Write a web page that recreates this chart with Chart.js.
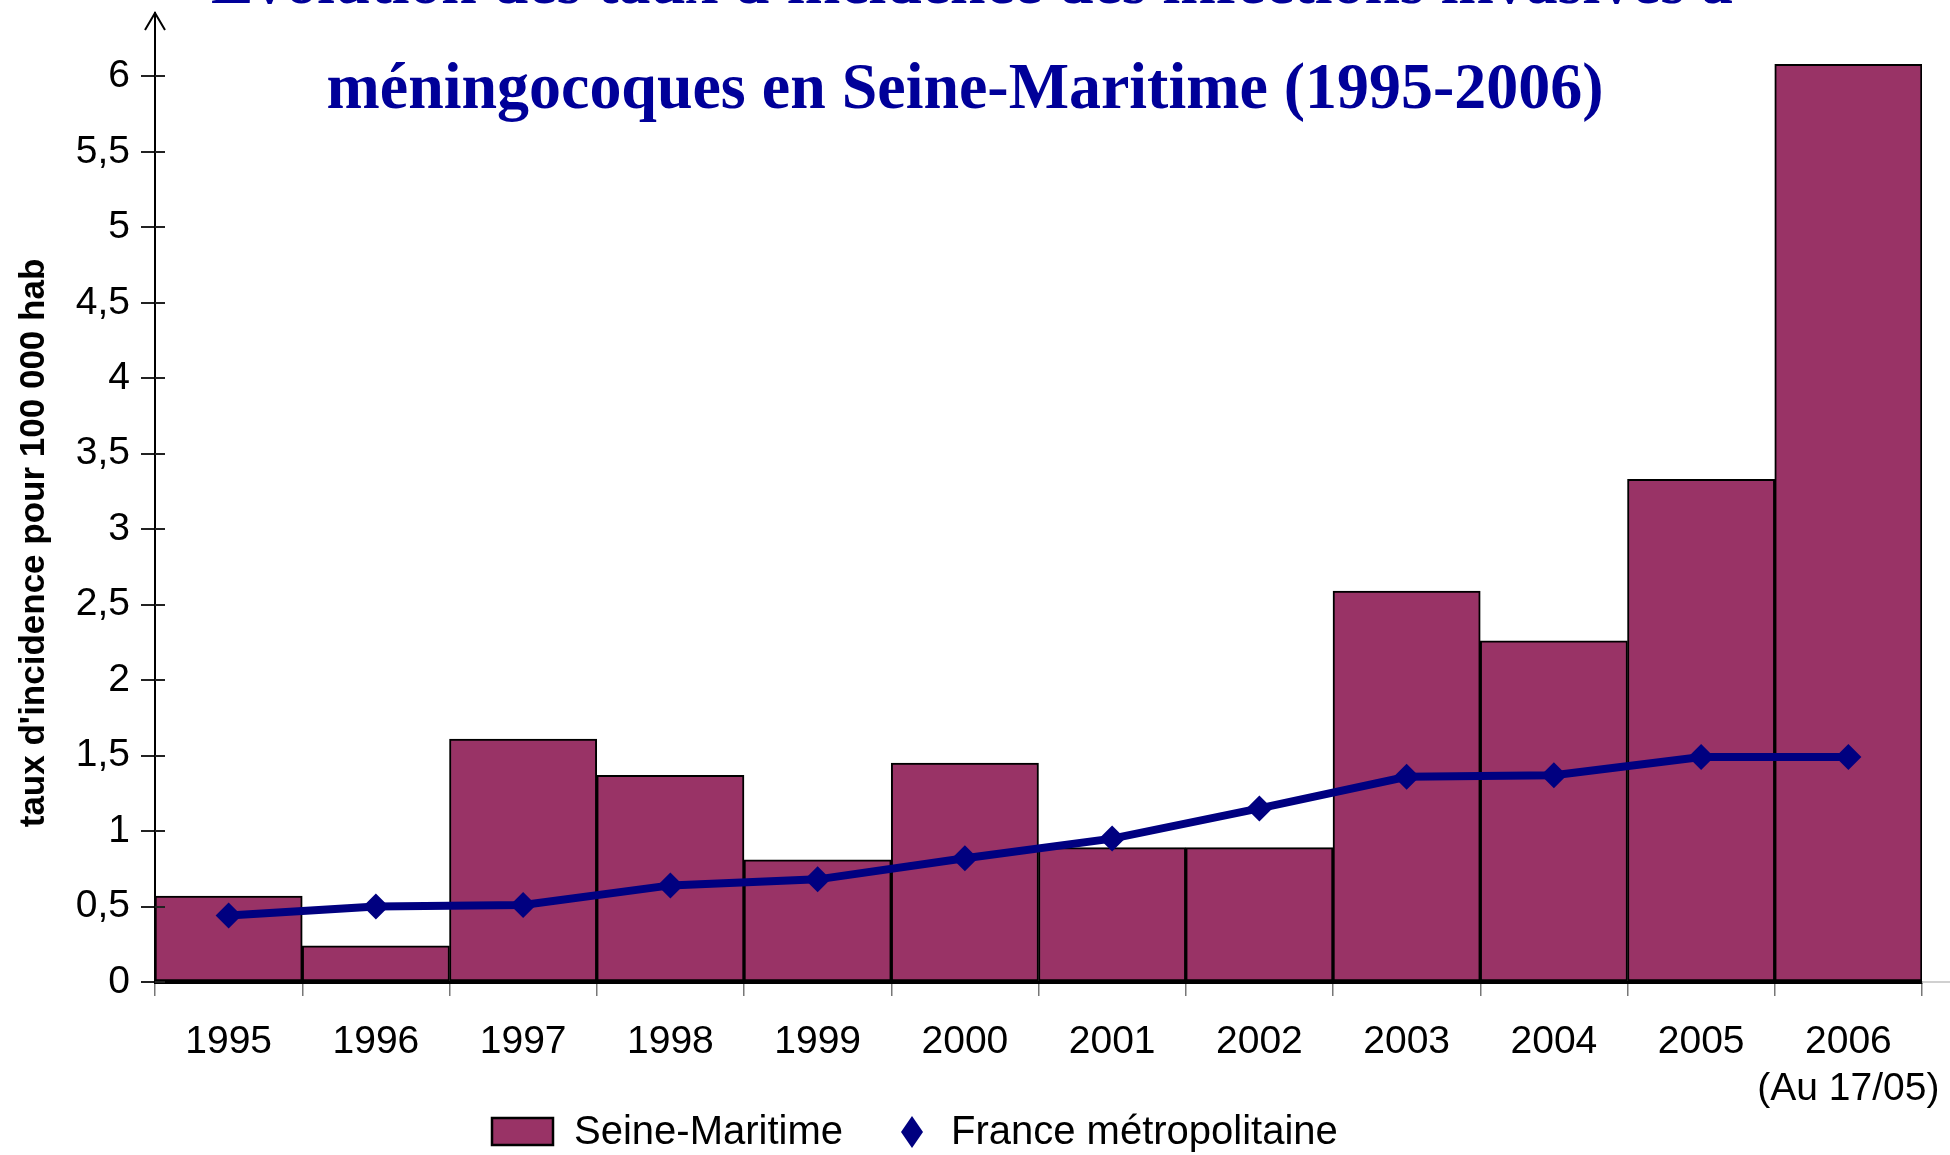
<!DOCTYPE html>
<html>
<head>
<meta charset="utf-8">
<script src="https://cdn.jsdelivr.net/npm/chart.js@4/dist/chart.umd.min.js"></script>
<style>
  html, body { margin: 0; padding: 0; background: #fff; }
  #wrap { width: 1950px; height: 1155px; position: relative; }
</style>
</head>
<body>
<div id="wrap"><canvas id="c" width="1950" height="1155"></canvas></div>
<script>
// ---- data ----
const years = ['1995', '1996', '1997', '1998', '1999', '2000', '2001', '2002', '2003', '2004', '2005', ['2006', '(Au 17/05)']];
const seineMaritime = [0.57, 0.24, 1.61, 1.37, 0.81, 1.45, 0.89, 0.89, 2.59, 2.26, 3.33, 6.08];
const franceMetro = [0.44, 0.50, 0.51, 0.64, 0.68, 0.82, 0.95, 1.15, 1.36, 1.37, 1.49, 1.49];
const seriesNames = ['Seine-Maritime', 'France métropolitaine'];
const titleLines = ["Évolution des taux d'incidence des infections invasives à", 'méningocoques en Seine-Maritime (1995-2006)'];
const yAxisTitle = "taux d'incidence pour 100 000 hab";

const BAR_COLOR = '#993366';
const LINE_COLOR = '#000080';
const TITLE_COLOR = '#000099';

function drawFitted(ctx, text, cx, baseline, targetW, font) {
  ctx.save();
  ctx.font = font;
  const w = ctx.measureText(text).width;
  ctx.translate(cx, baseline);
  ctx.scale(targetW / w, 1);
  ctx.textAlign = 'center';
  ctx.textBaseline = 'alphabetic';
  ctx.fillText(text, 0, 0);
  ctx.restore();
}

const decor = {
  id: 'decor',
  afterDraw(chart) {
    const ctx = chart.ctx;
    const ca = chart.chartArea;
    const ys = chart.scales.y;
    ctx.save();
    // arrow on the y axis
    ctx.strokeStyle = '#000';
    ctx.lineWidth = 2;
    ctx.beginPath();
    ctx.moveTo(ca.left - 10, ca.top + 17);
    ctx.lineTo(ca.left, ca.top);
    ctx.lineTo(ca.left + 10, ca.top + 17);
    ctx.stroke();
    // tick stubs crossing the axis
    ctx.strokeStyle = '#222';
    ctx.lineWidth = 2;
    ys.ticks.forEach(t => {
      const py = Math.round(ys.getPixelForValue(t.value));
      ctx.beginPath();
      ctx.moveTo(ca.left, py);
      ctx.lineTo(ca.left + 10, py);
      ctx.stroke();
    });
    // x axis extension to the right edge
    ctx.strokeStyle = '#c0c0c0';
    ctx.lineWidth = 1.5;
    ctx.beginPath();
    ctx.moveTo(ca.right, ca.bottom);
    ctx.lineTo(chart.width, ca.bottom);
    ctx.stroke();

    // title (partly cut at top)
    ctx.fillStyle = TITLE_COLOR;
    drawFitted(ctx, titleLines[0], 972, 3, 1522, 'bold 66px "Liberation Serif"');
    drawFitted(ctx, titleLines[1], 965, 108, 1277, 'bold 66px "Liberation Serif"');

    // y axis title
    ctx.save();
    ctx.fillStyle = '#000';
    ctx.font = 'bold 35px "Liberation Sans"';
    ctx.translate(44, 543);
    ctx.rotate(-Math.PI / 2);
    ctx.textAlign = 'center';
    ctx.textBaseline = 'alphabetic';
    ctx.fillText(yAxisTitle, 0, 0);
    ctx.restore();

    // legend
    const ly = 1132;
    ctx.fillStyle = BAR_COLOR;
    ctx.fillRect(492, 1118, 61, 27);
    ctx.strokeStyle = '#000';
    ctx.lineWidth = 2.5;
    ctx.strokeRect(492, 1118, 61, 27);
    ctx.fillStyle = '#000';
    ctx.font = '40px "Liberation Sans"';
    ctx.textAlign = 'left';
    ctx.textBaseline = 'middle';
    ctx.fillText(seriesNames[0], 574, ly + 1);
    ctx.fillStyle = LINE_COLOR;
    ctx.beginPath();
    ctx.moveTo(912, ly - 16);
    ctx.lineTo(923, ly);
    ctx.lineTo(912, ly + 16);
    ctx.lineTo(901, ly);
    ctx.closePath();
    ctx.fill();
    ctx.fillStyle = '#000';
    ctx.fillText(seriesNames[1], 951, ly + 1);
    ctx.restore();
  }
};

new Chart(document.getElementById('c'), {
  data: {
    labels: years,
    datasets: [
      {
        type: 'line',
        label: seriesNames[1],
        data: franceMetro,
        borderColor: LINE_COLOR,
        backgroundColor: LINE_COLOR,
        borderWidth: 8,
        tension: 0,
        pointStyle: 'rectRot',
        pointRadius: 13,
        pointBackgroundColor: LINE_COLOR,
        pointBorderWidth: 0,
        order: 1
      },
      {
        type: 'bar',
        label: seriesNames[0],
        data: seineMaritime,
        backgroundColor: BAR_COLOR,
        borderColor: '#000',
        borderWidth: 2,
        borderSkipped: false,
        barPercentage: 1,
        categoryPercentage: 1,
        order: 2
      }
    ]
  },
  options: {
    responsive: false,
    animation: false,
    devicePixelRatio: 1,
    layout: { padding: { left: 0, right: 28, top: 13, bottom: 43 } },
    plugins: {
      legend: { display: false },
      title: { display: false },
      tooltip: { enabled: false }
    },
    scales: {
      x: {
        type: 'category',
        offset: true,
        grid: { drawOnChartArea: false, tickLength: 14, offset: true, color: '#777', lineWidth: 1.5 },
        border: { display: true, color: '#000', width: 3 },
        ticks: {
          color: '#000',
          font: { family: 'Liberation Sans', size: 39, lineHeight: 1.2 },
          padding: 23,
          maxRotation: 0,
          autoSkip: false
        },
        afterFit(scale) { scale.height = 130; scale.paddingLeft = 0; scale.paddingRight = 0; }
      },
      y: {
        type: 'linear',
        min: 0,
        max: 6.42,
        grid: { drawOnChartArea: false, tickLength: 14, color: '#222', lineWidth: 2 },
        border: { display: true, color: '#000', width: 2 },
        ticks: {
          stepSize: 0.5,
          color: '#000',
          padding: 11,
          font: { family: 'Liberation Sans', size: 39 },
          callback: v => String(v).replace('.', ',')
        },
        afterBuildTicks(scale) { scale.ticks = scale.ticks.filter(t => t.value <= 6.0001); },
        afterFit(scale) { scale.width = 155; scale.paddingTop = 0; scale.paddingBottom = 0; }
      }
    }
  },
  plugins: [decor]
});
</script>
</body>
</html>
